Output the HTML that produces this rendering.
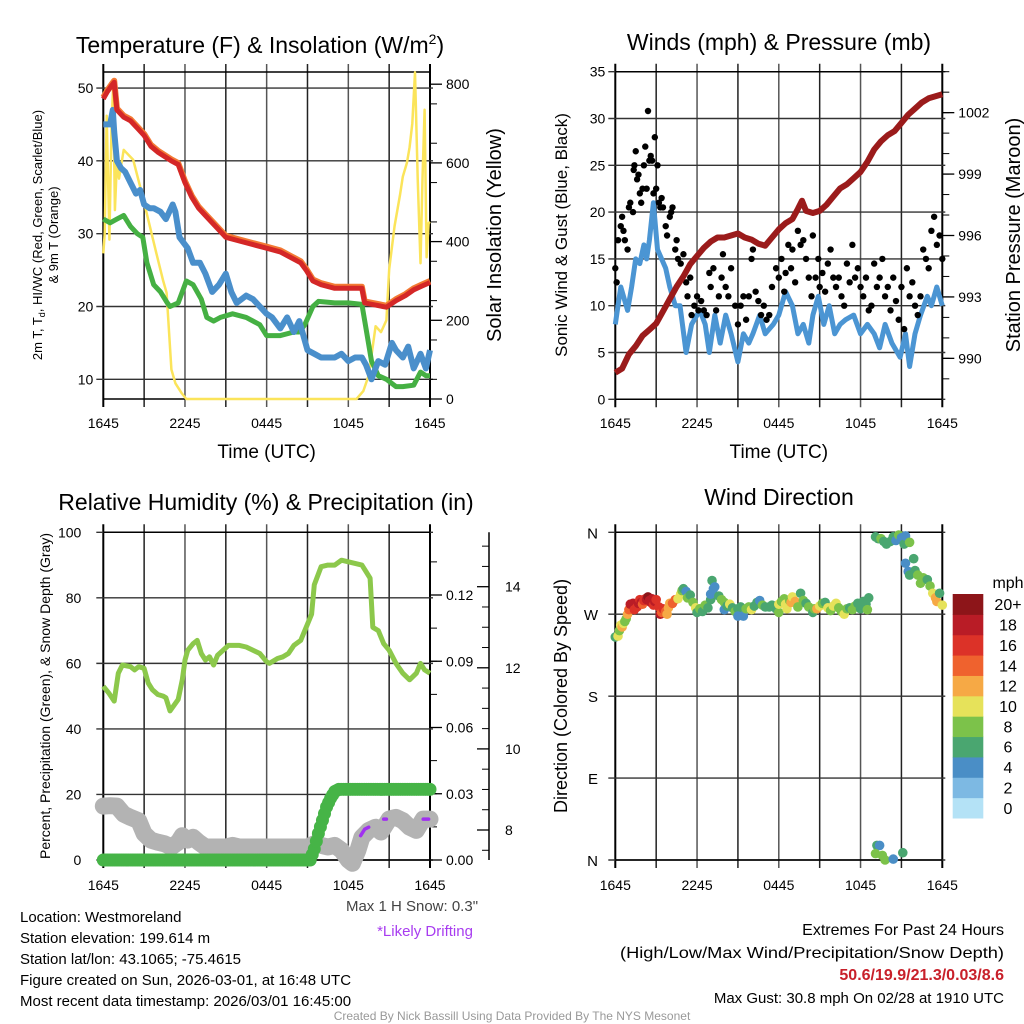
<!DOCTYPE html>
<html><head><meta charset="utf-8"><style>
html,body{margin:0;padding:0;background:#fff;}
svg{display:block;font-family:"Liberation Sans",sans-serif;}
</style></head><body>
<svg id="fig" width="1024" height="1024" viewBox="0 0 1024 1024" xmlns="http://www.w3.org/2000/svg">
<rect width="1024" height="1024" fill="#fff"/>
<g id="layer"></g>
</svg>
<script>
// ---------- DATA ----------
const timeTicks = ["1645","2245","0445","1045","1645"];
// temperature panel
const tempHours = [0,0.3,0.6,0.8,1,1.5,2,2.5,3,3.5,4,4.5,5,5.5,6,6.5,7,7.5,8,8.5,9,10,11,12,13,14,14.5,14.9,15.4,16,17,18,19,19.2,20,20.8,21.5,22.2,22.8,23.4,24];
const tempRed = [48.5,49.5,50.3,50.8,47,46,45.5,44.5,43.5,42,41.2,40.6,40,39.5,37,35,33.5,32.5,31.5,30.5,29.5,29,28.5,28,27.5,26.5,26,25,23.5,23,22.5,22.5,22.5,20.5,20.2,19.9,20.8,21.5,22.3,22.8,23.3];
const tdHours = [0,0.5,1,1.5,2,2.5,2.9,3.2,3.7,4.2,4.7,4.9,5.5,6.1,6.6,7.2,7.6,8.1,8.6,9.5,10.5,11.5,12,13,14,14.4,14.8,15.4,15.8,17,18,19,19.3,19.7,20.2,20.8,21.5,22,22.8,23.3,23.7,24];
const tdGreen = [32,31.5,32,32.5,31,30,29.5,26,23,22,20.5,20,20.5,23.5,23,21,18.5,18,18.5,19,18.5,17.5,16,16,16.5,16.5,17.5,20,20.7,20.5,20.5,20.3,17,12.5,10.5,10,9,9,9.2,11,10.5,10.5];
const wcHours = [0,0.5,0.7,0.8,1,1.3,1.6,2,2.4,2.7,3,3.4,3.7,4.2,4.6,5.1,5.3,5.6,6.2,6.6,7.1,7.5,8,8.5,9,9.4,9.8,10.5,11,12,12.4,13,13.5,14,14.4,15,15.5,16,17,17.5,18,18.5,19,19.3,19.7,20.2,20.7,21.2,21.5,22,22.4,22.8,23.3,23.7,24];
const wcBlue = [45,45,47,44,40,39,38.5,37,35.5,36,34,33.5,33.5,33,32,34,33,29.5,28,26,26,24.5,22,23,24.5,22,20.5,21.5,21,19,18.5,17,18.5,16.5,18,14,13.5,13,13,13.5,12.5,13,13,12,10,12.5,12,15,14,13,14.5,11.5,13.5,11.5,14];
const solHours = [0,0.1,0.25,0.45,0.6,0.73,0.85,1.0,1.15,1.5,2.2,2.7,3.2,3.9,4.4,4.65,5.0,5.3,5.75,6.1,18.6,19.1,19.5,20.0,20.4,20.8,21.0,21.4,21.8,22.0,22.3,22.5,22.7,22.9,23.1,23.3,23.45,23.6,23.75,23.9,24];
const solar = [370,420,720,405,690,800,480,600,560,633,608,540,470,370,300,270,75,40,15,0,0,20,60,185,170,200,330,440,520,565,600,640,700,830,560,345,560,735,360,447,450];
// wind panel
const windHours = [0,0.2,0.4,0.6,0.9,1.2,1.5,1.8,2.1,2.3,2.5,2.8,3.1,3.4,3.7,4.0,4.4,4.75,5.2,5.6,6.2,6.6,6.9,7.3,7.7,8.1,8.5,9,9.4,9.8,10.1,10.6,11,11.6,12,12.5,13,13.4,13.8,14.2,14.5,14.9,15.3,15.7,16.1,16.5,16.9,17.5,18,18.5,19,19.4,19.8,20.3,20.9,21.3,21.6,22,22.4,22.9,23.2,23.6,24];
const windBlue = [8,10,12,11,9.5,12,15,14.5,16.5,15,17,21,16,15,14,12,10,10,5,8,9.5,8,5,9,6,9,7,4,7,6,7,9,7,8,9,11.5,10,7,8,6,9,11,8,10,7,8,8.5,9,7,8,7,5.5,8,6,4.5,7,3.5,7,9,11,10,12,10];
const gustHours = [0,0.1,0.2,0.4,0.5,0.6,0.7,0.9,1.0,1.1,1.3,1.35,1.4,1.5,1.6,1.7,1.8,1.9,2.0,2.1,2.2,2.3,2.4,2.5,2.6,2.7,2.8,2.9,3.0,3.1,3.2,3.3,3.4,3.5,3.7,3.8,4.0,4.1,4.2,4.4,4.5,4.6,4.8,5.0,5.2,5.3,5.5,5.6,5.8,6.0,6.1,6.3,6.5,6.7,6.9,7.0,7.2,7.4,7.6,7.8,7.9,8.1,8.3,8.5,8.8,9.0,9.2,9.4,9.6,9.8,10.0,10.1,10.3,10.5,10.7,10.9,11.1,11.3,11.5,11.8,12.0,12.2,12.4,12.5,12.7,12.9,13.0,13.2,13.4,13.6,13.8,14.0,14.2,14.4,14.5,14.7,14.9,15.0,15.2,15.4,15.6,15.8,16.0,16.2,16.4,16.6,16.8,17.0,17.2,17.4,17.6,17.8,18.0,18.2,18.4,18.6,18.8,19.0,19.2,19.4,19.6,19.8,20.0,20.2,20.4,20.6,20.8,21.0,21.2,21.4,21.6,21.8,22.0,22.2,22.4,22.6,22.8,23.0,23.2,23.4,23.6,23.8,24];
const gustVals = [14,12.5,17,18.5,19.5,18,17,16,20.5,21,20,24.5,25,26.5,23.5,24,22,21,22.5,25,27,22.5,30.8,25.5,26,25.5,22,28,22.5,25,21,20.5,21.5,20.5,18.5,17.5,19.5,20,20.5,16,17,15,14.5,15.5,12.5,11,13,9,10,11,9.5,10.5,9.5,9,13.5,12,14,9.5,11,13,15.5,12,11,14,10,8,10,11,8.5,11,15,16,11.5,10.5,9,10,8.5,9,12,14,13,15,11.5,13.5,16.5,14,16,12.5,18,16.5,17,15,13,11,17.5,13,15,12,13.5,11.5,14.5,16,13,12,13,11,10,14.5,12.5,16.5,13,14,12,11,13,9.5,10,14.5,12,13,15,11,12,9.5,13,10.5,8.5,12,7.5,14,11,12.5,10,9,11,16,15,14,18,19.5,16.5,17.5,15];
const presHours = [0,0.5,1,1.5,2,2.5,3,3.5,4,4.5,5,5.5,6,6.5,7,7.5,8,8.5,9,9.5,10,10.5,11,11.5,12,12.5,13,13.4,13.7,14,14.5,15,15.5,16,16.5,17,17.5,18,18.5,19,19.5,20,20.5,21,21.5,22,22.5,23,23.5,24];
const pressure = [989.3,989.5,990.2,990.6,991.1,991.4,991.7,992.3,992.9,993.5,994.0,994.6,995.0,995.4,995.7,995.9,995.9,996.0,996.1,995.9,995.8,995.6,995.5,995.9,996.3,996.6,996.8,997.3,997.7,997.2,997.1,997.2,997.5,997.9,998.3,998.5,998.8,999.1,999.6,1000.2,1000.6,1000.9,1001.1,1001.5,1001.9,1002.2,1002.5,1002.7,1002.8,1002.9];
// RH / precip panel
const rhHours = [0,0.4,0.8,1.1,1.4,2,2.3,2.6,3,3.3,3.6,4,4.4,4.6,4.9,5.5,5.8,6,6.2,6.6,6.9,7.2,7.5,7.8,8.1,8.4,8.8,9.2,10,10.5,11,11.5,12,12.2,12.8,13.2,13.6,14,14.5,15,15.3,15.5,16,16.5,17,17.5,18,18.5,19,19.3,19.6,19.8,20.2,20.6,21,21.5,22,22.5,23,23.3,23.6,24];
const rhVals = [53,51,48.5,57,59.5,59,58,59,58.5,54,52,50.5,50,49.5,45.5,49,55,61,64,66,67,63,61,62,59.5,62.5,64,65.5,65.5,65,64,63,60.5,60,61.5,62,63,65.5,67,72,75,84,89.5,90,90,91.5,91,90.5,90,88,86,71,70,66,64,60,57,55,57,60,58,57];
const precipHours = [0,2,4,6,8,10,12,14,15.2,15.5,15.8,16.1,16.4,16.7,17,17.3,18,20,22,24];
const precipVals = [0,0,0,0,0,0,0,0,0,0.005,0.012,0.018,0.024,0.028,0.031,0.032,0.032,0.032,0.032,0.032];
const snowHours = [0,0.5,1,1.5,2,2.6,3,3.5,4,4.5,5,5.5,5.8,6.2,6.6,7,7.5,8,9,9.5,10,11,12,13,14,15,15.5,16,16.5,17,17.5,18,18.3,18.7,19,19.5,20,20.4,21,21.5,22,22.5,23,23.5,24];
const snowDepth = [8.59,8.6,8.59,8.39,8.31,8.23,7.91,7.75,7.70,7.66,7.58,7.70,7.86,7.75,7.82,7.70,7.58,7.58,7.58,7.62,7.58,7.58,7.58,7.58,7.58,7.58,7.66,7.62,7.58,7.62,7.50,7.26,7.18,7.50,7.82,7.99,8.07,7.95,8.27,8.31,8.23,8.07,7.99,8.27,8.27];
const driftHours = [[18.9,19.2,19.5],[20.6,20.8],[23.5,23.9]];
const driftDepth = [[7.86,8.02,8.07],[8.27,8.27],[8.27,8.27]];
// wind direction panel
const dirHours = [0,0.2,0.3,0.4,0.5,0.6,0.7,0.8,0.9,1.0,1.1,1.3,1.4,1.6,1.7,1.8,1.9,2.0,2.1,2.2,2.3,2.4,2.5,2.6,2.7,2.8,2.9,3.0,3.2,3.3,3.4,3.5,3.7,3.8,3.9,4.0,4.2,4.4,4.6,4.8,4.9,5.0,5.2,5.3,5.5,5.7,5.9,6.0,6.2,6.4,6.6,6.8,7.0,7.0,7.1,7.2,7.3,7.6,7.8,8.0,8.0,8.2,8.4,8.6,8.8,9.0,9.0,9.2,9.4,9.6,9.8,10.0,10.2,10.4,10.6,10.8,11.0,11.3,11.5,11.8,12.0,12.0,12.2,12.4,12.5,12.6,12.8,12.9,13.0,13.2,13.4,13.6,13.8,14.0,14.2,14.5,14.6,14.8,15.0,15.2,15.4,15.6,15.8,16.0,16.2,16.4,16.6,16.8,17.0,17.2,17.4,17.6,17.8,18.0,18.2,18.4,18.6,18.5,19.1,19.3,19.5,19.7,19.9,20.2,20.4,20.6,20.8,21.0,21.2,21.3,21.6,21.3,21.5,21.9,21.6,22.0,22.2,22.4,22.6,22.9,23.1,23.3,23.5,23.6,23.8,24.0,19.2,19.4,19.1,19.6,19.8,20.4,21.1];
const dirDeg = [245,246,252,258,256,260,262,265,270,275,281,282,275,278,282,286,283,281,285,287,286,289,285,283,287,280,284,286,278,270,272,276,273,270,277,282,282,286,287,292,296,298,295,288,291,283,277,272,276,273,280,277,286,292,307,298,300,290,286,283,275,279,281,277,273,276,268,278,268,276,278,275,279,283,285,280,278,278,280,276,272,281,284,287,281,276,285,283,289,284,278,293,285,282,278,272,276,276,279,282,283,277,274,279,282,277,273,270,276,277,275,279,282,276,284,281,288,275,355,353,353,350,347,350,355,351,357,354,347,356,349,326,317,331,313,318,313,304,310,308,301,293,288,284,293,280,16,16,7,5,0,1,8];
const dirSpeed = [7,10,8,10,12,10,9,8,13,14,18,18,16,17,18,16,18,14,17,16,19,20,18,19,18,16,18,17,16,18,14,16,14,12,12,13,15,14,10,10,8,7,4,8,6,8,10,6,8,6,8,6,6,4,6,4,4,6,8,8,4,6,10,6,8,6,4,6,4,8,8,10,6,6,4,8,6,6,6,6,8,10,8,8,10,10,8,12,10,12,8,6,8,6,8,6,8,12,10,8,6,10,8,10,10,8,8,10,8,6,8,8,6,6,6,6,6,8,6,6,8,6,6,6,6,4,8,4,6,4,8,4,4,6,6,6,8,8,8,6,8,10,12,12,6,10,6,4,8,8,8,4,6];
const cbLabels = ["0","2","4","6","8","10","12","14","16","18","20+"];
const cbColors = ["#b4e2f6","#7db9e3","#4a8ec6","#4aa670","#7cc24a","#e6e25a","#f6a945","#ef622e","#dc3228","#b91c26","#8d1519"];

// ---------- DRAW ----------
const NS="http://www.w3.org/2000/svg";
const root=document.getElementById('layer');
function mk(tag,attrs,parent){const e=document.createElementNS(NS,tag);for(const k in attrs)e.setAttribute(k,attrs[k]);(parent||root).appendChild(e);return e;}
function txt(s,x,y,size,anchor,parent,extra){const t=mk('text',Object.assign({x:x,y:y,'font-size':size,'text-anchor':anchor||'middle',fill:'#000'},extra||{}),parent);t.textContent=s;return t;}
function scale(d0,d1,r0,r1){return v=>r0+(v-d0)/(d1-d0)*(r1-r0);}
function pathOf(xs,ys,fx,fy){return xs.map((h,i)=>(i?'L':'M')+fx(h).toFixed(1)+','+fy(ys[i]).toFixed(1)).join('');}

function panel(name,x0,x1,yTop,yBot,yTicks,fy,timeLabelY,showTimeTitle){
  const g=mk('g',{});
  
  
  for(let i=0;i<=8;i++){const x=x0+(x1-x0)*i/8;
    const edge=(i==0||i==8);
    const l=mk('line',{x1:x,x2:x,y1:yTop-8,y2:yBot+8,stroke:edge?'#000':(i%2?'#222':'#555'),'stroke-width':edge?2:1.5},g);
    
    
  }
  yTicks.forEach(v=>{const y=fy(v);
    const l=mk('line',{x1:x0-7,x2:x1+3,y1:y,y2:y,stroke:'#333','stroke-width':1.4},g);
    
    
  });
  mk('line',{x1:x0,x2:x1,y1:yTop,y2:yTop,stroke:'#000','stroke-width':1.5},g);
  mk('line',{x1:x0,x2:x1,y1:yBot,y2:yBot,stroke:'#000','stroke-width':1.5},g);
  timeTicks.forEach((s,i)=>{const t=txt(s,x0+(x1-x0)*i/4,timeLabelY,14,'middle',g);
    
    });
  if(showTimeTitle){const t=txt('Time (UTC)',(x0+x1)/2,timeLabelY+30,19,'middle',g);
    
    }
  return g;
}
function rightAxis(g,x,vals,fy,fmt,minors){
  minors.forEach(v=>{mk('line',{x1:x,x2:x+7,y1:fy(v),y2:fy(v),stroke:'#000','stroke-width':1},g);});
  vals.forEach(v=>{const y=fy(v);mk('line',{x1:x,x2:x+12,y1:y,y2:y,stroke:'#000','stroke-width':1.3},g);
    const t=txt(fmt(v),x+16,y+5,14,'start',g);
    
    });
}
function leftLabels(g,x,vals,fy,fmt){
  vals.forEach(v=>{const t=txt(fmt(v),x,fy(v)+5,14,'end',g);
    
    });
}

// ===== Panel 1: Temperature =====
{
const X0=103.3,X1=430,YT=72,YB=399;
const fx=scale(0,24,X0,X1), fy=scale(7.3,52.2,YB,YT), fs=scale(0,831,YB,YT);
const g=panel('temperature-panel',X0,X1,YT,YB,[10,20,30,40,50],fy,428,true);
leftLabels(g,X0-10,[10,20,30,40,50],fy,v=>v);
const minors=[];for(let v=50;v<=800;v+=100)minors.push(v);
rightAxis(g,X1,[0,200,400,600,800],fs,v=>v,minors);
const ps=mk('path',{d:pathOf(solHours,solar,fx,fs),fill:'none',stroke:'#fbe45a','stroke-width':2.5,'stroke-linejoin':'round'},g);


const pg=mk('path',{d:pathOf(tdHours,tdGreen,fx,fy),fill:'none',stroke:'#45b043','stroke-width':5,'stroke-linejoin':'round'},g);


const pb=mk('path',{d:pathOf(wcHours,wcBlue,fx,fy),fill:'none',stroke:'#4a8fcb','stroke-width':6,'stroke-linejoin':'round'},g);


const po=mk('path',{d:pathOf(tempHours,tempRed,fx,fy),fill:'none',stroke:'#f37a34','stroke-width':6,'stroke-linejoin':'round',transform:'translate(0,-1.5)'},g);


const pr=mk('path',{d:pathOf(tempHours,tempRed,fx,fy),fill:'none',stroke:'#d42727','stroke-width':5,'stroke-linejoin':'round'},g);


const t1=txt('Temperature (F) & Insolation (W/m',260,53,23,'middle',g);
const sup=mk('tspan',{'font-size':14,dy:-9},t1);sup.textContent='2';
const sup2=mk('tspan',{'font-size':23,dy:9},t1);sup2.textContent=')';


const a1=txt('2m T, T',0,0,13,'middle',g,{transform:'translate(42,235) rotate(-90)'});
const sb=mk('tspan',{'font-size':9,dy:3},a1);sb.textContent='d';
const sb2=mk('tspan',{'font-size':13,dy:-3},a1);sb2.textContent=', HI/WC (Red, Green, Scarlet/Blue)';


const a2=txt('& 9m T (Orange)',0,0,13,'middle',g,{transform:'translate(58,235) rotate(-90)'});


const a3=txt('Solar Insolation (Yellow)',0,0,20,'middle',g,{transform:'translate(501,235) rotate(-90)'});


}

// ===== Panel 2: Winds =====
{
const X0=615.3,X1=942.3,YT=71.7,YB=399.3;
const fx=scale(0,24,X0,X1), fy=scale(0,35,YB,YT), fp=scale(988,1004,YB,YT);
const g=panel('winds-panel',X0,X1,YT,YB,[0,5,10,15,20,25,30,35],fy,428,true);
leftLabels(g,X0-10,[0,5,10,15,20,25,30,35],fy,v=>v);
const minors=[];for(let v=989;v<=1004;v++)minors.push(v);
rightAxis(g,X1,[990,993,996,999,1002],fp,v=>v,minors);
const pb=mk('path',{d:pathOf(windHours,windBlue,fx,fy),fill:'none',stroke:'#4b95d3','stroke-width':5,'stroke-linejoin':'round'},g);


gustHours.forEach((h,i)=>{
  const c=mk('circle',{cx:fx(h),cy:fy(gustVals[i]),r:3.2,fill:'#000'},g);
  
  
});
const pp=mk('path',{d:pathOf(presHours,pressure,fx,fp),fill:'none',stroke:'#9b1b1b','stroke-width':6,'stroke-linejoin':'round'},g);


const t=txt('Winds (mph) & Pressure (mb)',779,50,23,'middle',g);


const a1=txt('Sonic Wind & Gust (Blue, Black)',0,0,17,'middle',g,{transform:'translate(567,235) rotate(-90)'});


const a2=txt('Station Pressure (Maroon)',0,0,20,'middle',g,{transform:'translate(1020,235) rotate(-90)'});


}

// ===== Panel 3: RH =====
{
const X0=103.3,X1=430,YT=532.3,YB=860;
const fx=scale(0,24,X0,X1), fy=scale(0,100,YB,YT), fpr=scale(0,0.12,YB,595), fsn=scale(8,14,830,586.7);
const g=panel('humidity-panel',X0,X1,YT,YB,[0,20,40,60,80,100],fy,890,false);
leftLabels(g,X0-22,[0,20,40,60,80,100],fy,v=>v);
const minors=[];for(let v=0.015;v<=0.15;v+=0.015)minors.push(v);
rightAxis(g,X1,[0,0.03,0.06,0.09,0.12],fpr,v=>v.toFixed(2),minors);
mk('line',{x1:489,x2:489,y1:YT,y2:YB,stroke:'#000','stroke-width':1.5},g);
[7.5,8.5,9,9.5,10.5,11,11.5,12.5,13,13.5,14.5,15].forEach(v=>mk('line',{x1:489,x2:482,y1:fsn(v),y2:fsn(v),stroke:'#000','stroke-width':1},g));
[8,10,12,14].forEach(v=>{mk('line',{x1:489,x2:477,y1:fsn(v),y2:fsn(v),stroke:'#000','stroke-width':1.3},g);
  const t=txt(String(v),505,fsn(v)+5,14,'start',g);
  
  });
const pgray=mk('path',{d:pathOf(snowHours,snowDepth,fx,fsn),fill:'none',stroke:'#b3b3b3','stroke-width':17,'stroke-linejoin':'round','stroke-linecap':'round'},g);


driftHours.forEach((hs,i)=>{
  const p=mk('path',{d:pathOf(hs,driftDepth[i],fx,fsn),fill:'none',stroke:'#a030f0','stroke-width':3.5,'stroke-linecap':'round'},g);
  
  
});
const prh=mk('path',{d:pathOf(rhHours,rhVals,fx,fy),fill:'none',stroke:'#8cc84b','stroke-width':5,'stroke-linejoin':'round'},g);


for(let i=0;i<precipHours.length-1;i++){
  const h0=precipHours[i],h1=precipHours[i+1],n=Math.max(2,Math.round((h1-h0)*6));
  for(let k=0;k<n;k++){const h=h0+(h1-h0)*k/n,v=precipVals[i]+(precipVals[i+1]-precipVals[i])*k/n;
    const c=mk('circle',{cx:fx(h),cy:fpr(v),r:6.5,fill:'#46b447'},g);
    
    }
}
{const c=mk('circle',{cx:fx(24),cy:fpr(precipVals[precipVals.length-1]),r:6.5,fill:'#46b447'},g);

}
const t=txt('Relative Humidity (%) & Precipitation (in)',266,510,23,'middle',g);


const a1=txt('Percent, Precipitation (Green), & Snow Depth (Gray)',0,0,14,'middle',g,{transform:'translate(50,696) rotate(-90)'});


}

// ===== Panel 4: Direction =====
{
const X0=615.3,X1=942.3,YT=532.3,YB=860;
const fx=scale(0,24,X0,X1), fy=scale(0,360,YB,YT);
const g=panel('wind-direction-panel',X0,X1,YT,YB,[0,90,180,270,360],fy,890,false);
const names=['N','E','S','W','N'];
[0,90,180,270,360].forEach((v,i)=>{const t=txt(names[i],598,fy(v)+6,15,'end',g);
  
  });
dirHours.forEach((h,i)=>{
  const idx=Math.min(10,Math.floor(dirSpeed[i]/2));
  const c=mk('circle',{cx:fx(h),cy:fy(dirDeg[i]),r:4.8,fill:cbColors[idx]},g);
  
  
});
const t=txt('Wind Direction',779,505,23,'middle',g);


const a1=txt('Direction (Colored By Speed)',0,0,18,'middle',g,{transform:'translate(567,696) rotate(-90)'});


const cb=mk('g',{},g);


const cbTop=594,cbBot=818,h=(cbBot-cbTop)/11;
cbColors.forEach((c,i)=>{const y=cbBot-(i+1)*h;
  const r=mk('rect',{x:952.7,y:y,width:30.6,height:h+0.5,fill:c},cb);
  
  
  const t=txt(cbLabels[i],1008,y+h/2+6,16,'middle',cb);
  
  });
const mt=txt('mph',1008,588,16,'middle',cb);


}

// ===== Footer text =====
{
const g=mk('g',{});


const lines=['Location: Westmoreland','Station elevation: 199.614 m','Station lat/lon: 43.1065; -75.4615','Figure created on Sun, 2026-03-01, at 16:48 UTC','Most recent data timestamp: 2026/03/01 16:45:00'];
lines.forEach((s,i)=>{const t=txt(s,20,922+i*21,15,'start',g);
  
  });
const s1=txt('Max 1 H Snow: 0.3"',412,911,15,'middle',g,{fill:'#444'});


const s2=txt('*Likely Drifting',425,936,15,'middle',g,{fill:'#a83cf0'});


const r1=txt('Extremes For Past 24 Hours',1004,935,16,'end',g);


const r2=txt('(High/Low/Max Wind/Precipitation/Snow Depth)',1004,958,16,'end',g,{textLength:384,lengthAdjust:'spacingAndGlyphs'});


const r3=txt('50.6/19.9/21.3/0.03/8.6',1004,980,16,'end',g,{fill:'#c8202a','font-weight':'bold'});


const r4=txt('Max Gust: 30.8 mph On 02/28 at 1910 UTC',1004,1003,15,'end',g);


const c=txt('Created By Nick Bassill Using Data Provided By The NYS Mesonet',512,1020,12,'middle',g,{fill:'#999'});


}
</script>
</body></html>
